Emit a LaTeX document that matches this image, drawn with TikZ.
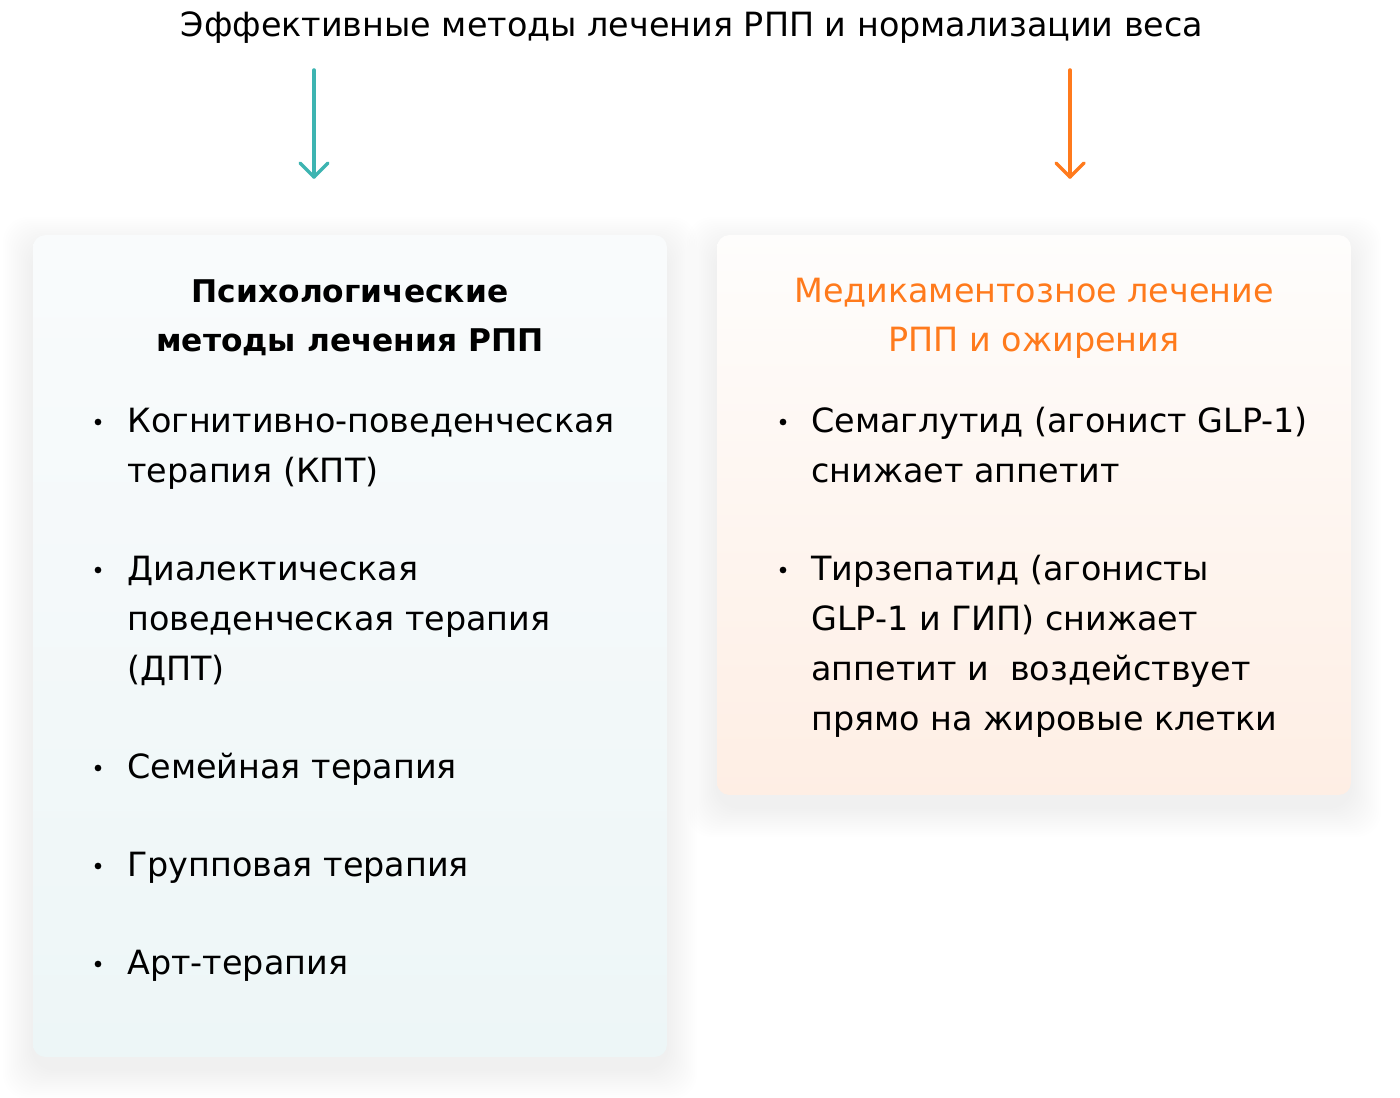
\documentclass[tikz,border=0pt]{standalone}
\usepackage{fontspec}
\setmainfont{DejaVu Sans}
\usetikzlibrary{positioning}
\definecolor{arrowteal}{HTML}{3DB4B1}
\definecolor{arroworange}{HTML}{FF7A1C}
\definecolor{psytop}{HTML}{F9FBFC}
\definecolor{psybot}{HTML}{EDF6F7}
\definecolor{medtop}{HTML}{FEFDFC}
\definecolor{medbot}{HTML}{FEEEE4}
\tikzset{
  body/.style={font=\fontsize{19pt}{28.45pt}\selectfont, anchor=base west, align=left, inner sep=0pt},
  head/.style={font=\fontsize{17.8pt}{28.45pt}\selectfont\bfseries, align=center, inner sep=0pt, anchor=base},
  dot/.style={circle, fill=black, inner sep=0pt, minimum size=3.8pt},
  panel/.style={rounded corners=7pt, inner sep=0pt},
  pointer/.style={line width=2pt, line cap=round, line join=round}
}
\begin{document}
\begin{tikzpicture}[x=0.02cm, y=-0.02cm]
\useasboundingbox[fill=white] (0,0) rectangle (1400,1098);

% soft shadows under the panels
\foreach \s in {2,4,...,30} {
  \fill[black, opacity=0.0025, rounded corners=14pt] (33-\s,247-\s) rectangle (667+\s,1069+\s);
  \fill[black, opacity=0.0025, rounded corners=14pt] (717-\s,247-\s) rectangle (1351+\s,807+\s);
}

% panels
\node[panel, top color=psytop, bottom color=psybot, minimum width=12.68cm, minimum height=16.44cm] (psy) at (350,646) {};
\node[panel, top color=medtop, bottom color=medbot, minimum width=12.68cm, minimum height=11.2cm] (med) at (1034,515) {};

% title
\node[body, anchor=base] (title) at (692,37) {Эффективные методы лечения РПП и нормализации веса};

% arrows
\coordinate (psytail) at (314,70);
\coordinate (psytip) at (314,177);
\coordinate (medtail) at (1070,70);
\coordinate (medtip) at (1070,177);
\draw[pointer, arrowteal] (psytail) -- (psytip);
\draw[pointer, arrowteal] (300,163) -- (psytip) -- (328,163);
\draw[pointer, arroworange] (medtail) -- (medtip);
\draw[pointer, arroworange] (1056,163) -- (medtip) -- (1084,163);

% left panel
\node[head] (psyhead) at (350,352) {Психологические\\методы лечения РПП};
\node[dot] (p1) at (98,422) {};
\node[body] (cbt) at (127,482) {Когнитивно-поведенческая\\терапия (КПТ)};
\node[dot] (p2) at (98,570) {};
\node[body] (dbt) at (127,680) {Диалектическая\\поведенческая терапия\\(ДПТ)};
\node[dot] (p3) at (98,768) {};
\node[body] (family) at (127,778) {Семейная терапия};
\node[dot] (p4) at (98,866) {};
\node[body] (group) at (127,876) {Групповая терапия};
\node[dot] (p5) at (98,964) {};
\node[body] (art) at (127,974) {Арт-терапия};

% right panel
\node[head, text=arroworange, font=\fontsize{19pt}{28.45pt}\selectfont] (medhead) at (1034,352) {Медикаментозное лечение\\РПП и ожирения};
\node[dot] (m1) at (783,422) {};
\node[body] (sema) at (811,482) {Семаглутид (агонист GLP-1)\\снижает аппетит};
\node[dot] (m2) at (783,570) {};
\node[body] (tirz) at (811,730) {Тирзепатид (агонисты\\GLP-1 и ГИП) снижает\\аппетит и~ воздействует\\прямо на жировые клетки};
\end{tikzpicture}
\end{document}
